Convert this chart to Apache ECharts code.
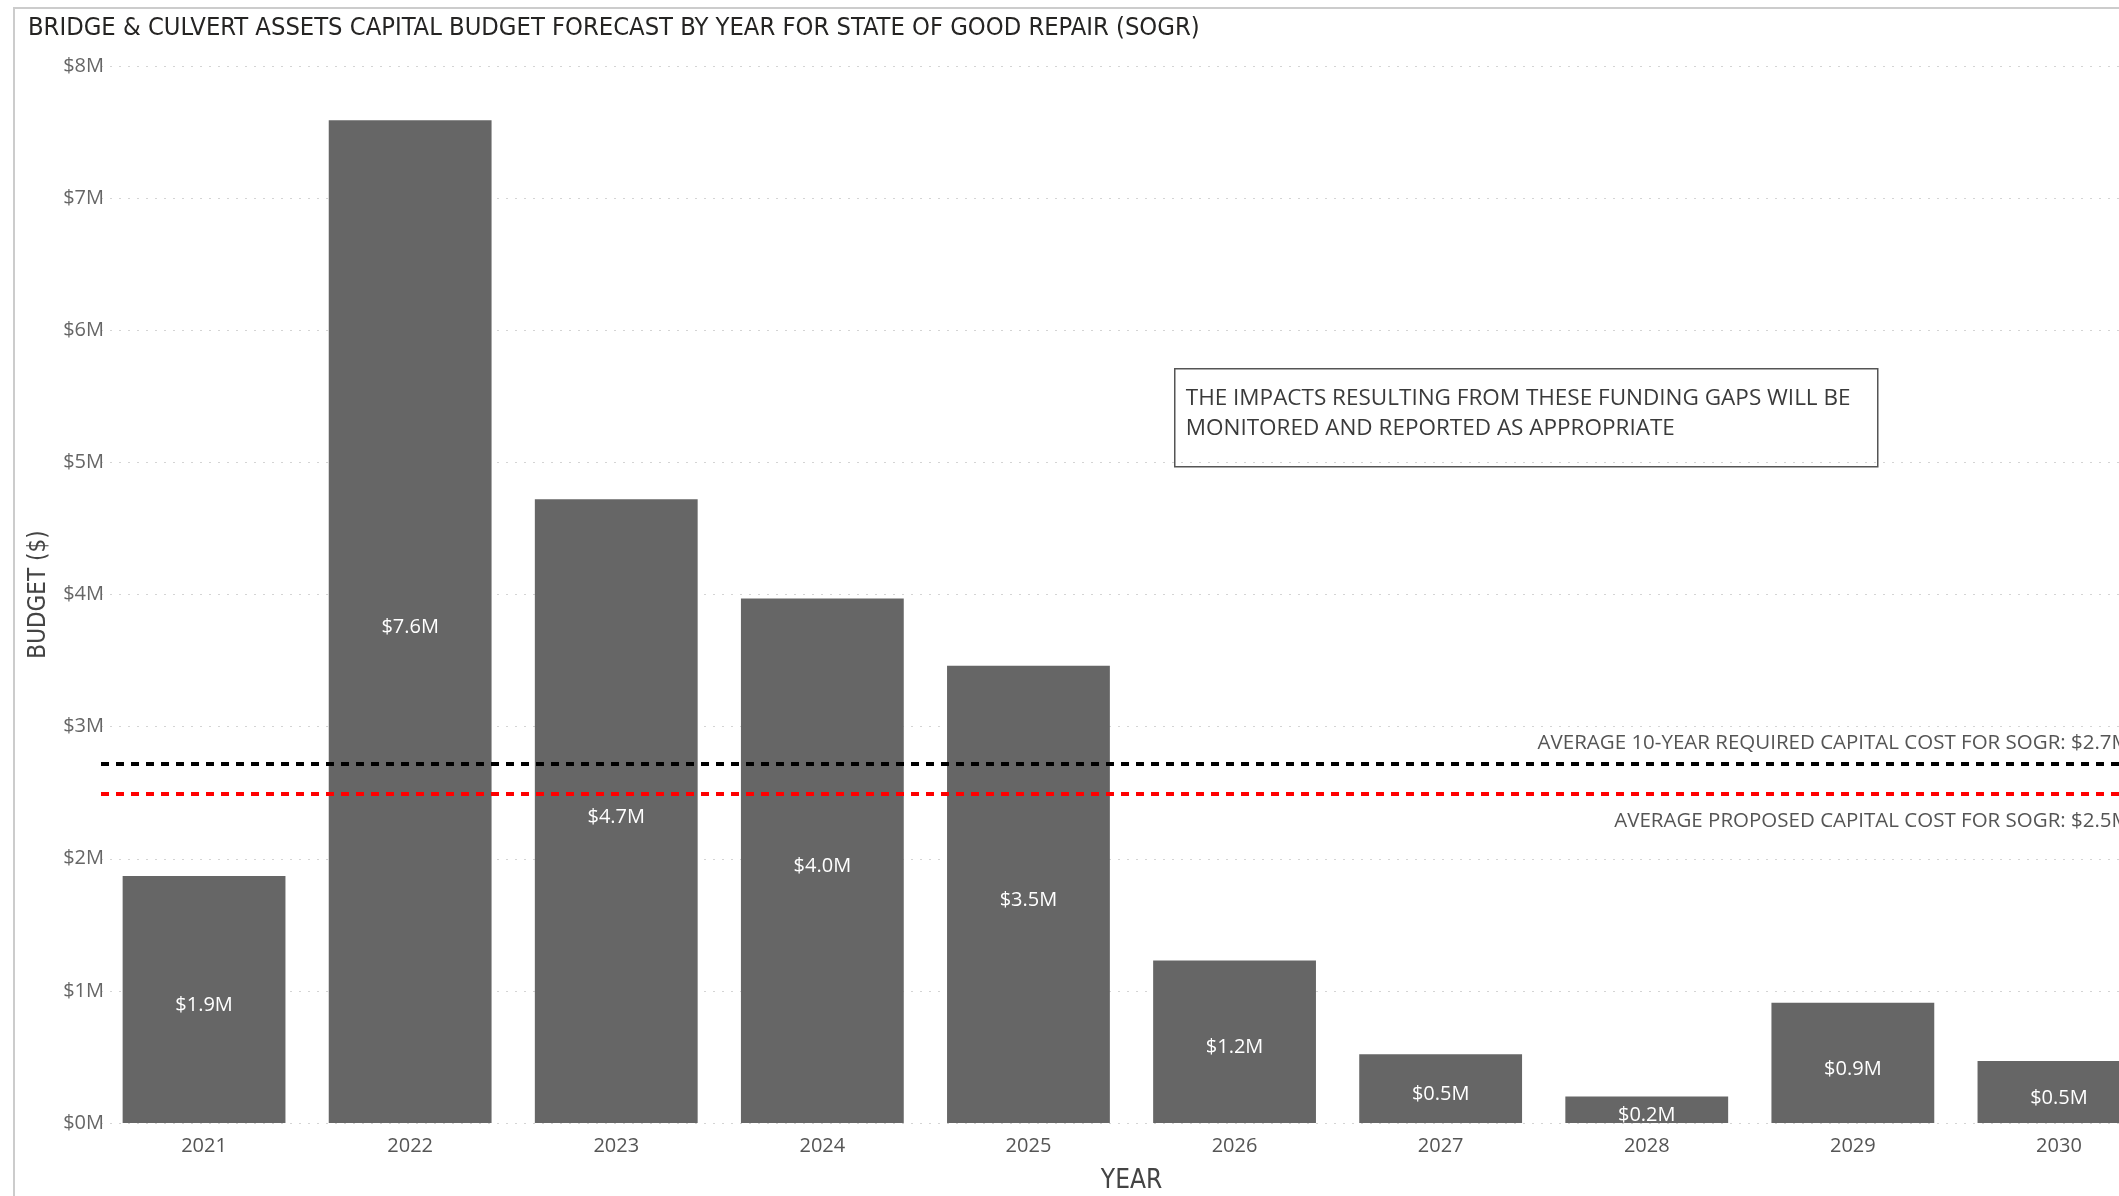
<!DOCTYPE html>
<html>
<head>
<meta charset="utf-8">
<script src="https://cdn.jsdelivr.net/npm/echarts@6/dist/echarts.min.js"></script>
<style>
  html, body { margin: 0; padding: 0; background: #ffffff; }
  #chart { width: 2119px; height: 1196px; }
</style>
</head>
<body>
<div id="chart"></div>
<script>
// Capital budget forecast for SOGR, in millions of dollars
const years = ['2021', '2022', '2023', '2024', '2025', '2026', '2027', '2028', '2029', '2030'];
const budget = [1.87, 7.59, 4.72, 3.97, 3.46, 1.23, 0.52, 0.20, 0.91, 0.47];
const requiredAvg = 2.72;   // average 10-year required capital cost
const proposedAvg = 2.49;   // average proposed capital cost
const yTicks = [0, 1, 2, 3, 4, 5, 6, 7, 8];

const fmtM = v => '$' + v.toFixed(1) + 'M';
const condensed = '"DejaVu Sans Condensed", "Liberation Sans Narrow", sans-serif';
const body = '"Open Sans", "Noto Sans", sans-serif';

const chart = echarts.init(document.getElementById('chart'));

chart.setOption({
  backgroundColor: '#ffffff',
  animation: false,
  title: {
    text: 'BRIDGE & CULVERT ASSETS CAPITAL BUDGET FORECAST BY YEAR FOR STATE OF GOOD REPAIR (SOGR)',
    left: 23,
    top: 11,
    textStyle: { fontFamily: condensed, fontSize: 25.3, fontWeight: 'normal', color: '#252423' }
  },
  grid: { left: 101, top: 66, width: 2061, height: 1057, outerBoundsMode: 'none', containLabel: false },
  xAxis: {
    type: 'category',
    data: years,
    name: 'YEAR',
    nameLocation: 'middle',
    nameGap: 45,
    nameTextStyle: { fontFamily: condensed, fontSize: 26, color: '#444444' },
    axisLine: { show: false },
    axisTick: { show: false },
    axisLabel: { fontFamily: body, fontSize: 20, color: '#555555', margin: 13 }
  },
  yAxis: {
    type: 'value',
    min: yTicks[0],
    max: yTicks[yTicks.length - 1],
    interval: 1,
    name: 'BUDGET ($)',
    nameLocation: 'middle',
    nameGap: 50,
    nameRotate: 90,
    nameTextStyle: { fontFamily: condensed, fontSize: 24, color: '#444444' },
    axisLine: { show: false },
    axisTick: { show: false },
    axisLabel: {
      fontFamily: body, fontSize: 20, color: '#666666', margin: -3,
      formatter: v => '$' + v + 'M'
    },
    splitLine: { lineStyle: { color: '#d4d4d4', width: 1, type: [2, 7] } }
  },
  series: [{
    type: 'bar',
    data: budget,
    barCategoryGap: '21%',
    itemStyle: { color: '#666666' },
    label: {
      show: true,
      position: 'inside',
      offset: [0, 6],
      fontFamily: body,
      fontSize: 20,
      color: '#ffffff',
      formatter: p => fmtM(p.value)
    },
    markLine: {
      silent: true,
      symbol: 'none',
      data: [
        {
          yAxis: requiredAvg,
          lineStyle: { color: '#000000', width: 4, type: [8, 7] },
          label: {
            position: 'insideEndTop',
            distance: [32, 10],
            fontFamily: body, fontSize: 20.5, color: '#555555',
            formatter: 'AVERAGE 10-YEAR REQUIRED CAPITAL COST FOR SOGR: ' + fmtM(requiredAvg)
          }
        },
        {
          yAxis: proposedAvg,
          lineStyle: { color: '#ff0000', width: 4, type: [8, 7] },
          label: {
            position: 'insideEndBottom',
            distance: [32, 17],
            fontFamily: body, fontSize: 20.5, color: '#555555',
            formatter: 'AVERAGE PROPOSED CAPITAL COST FOR SOGR: ' + fmtM(proposedAvg)
          }
        }
      ]
    }
  }],
  graphic: [
    {
      type: 'polyline',
      silent: true,
      shape: { points: [[14, 1196], [14, 8], [2119, 8]] },
      style: { stroke: '#cccccc', lineWidth: 2, fill: null }
    },
    {
      type: 'group',
      left: 1174,
      top: 368,
      children: [
        {
          type: 'rect',
          shape: { x: 0, y: 0, width: 703, height: 98 },
          style: { fill: '#ffffff', stroke: '#555555', lineWidth: 1.5 }
        },
        {
          type: 'text',
          x: 11,
          y: 15,
          style: {
            text: 'THE IMPACTS RESULTING FROM THESE FUNDING GAPS WILL BE\nMONITORED AND REPORTED AS APPROPRIATE',
            fontFamily: body,
            fontSize: 22.5,
            lineHeight: 30,
            fill: '#3a3a3a'
          }
        }
      ]
    }
  ]
});
</script>
</body>
</html>
